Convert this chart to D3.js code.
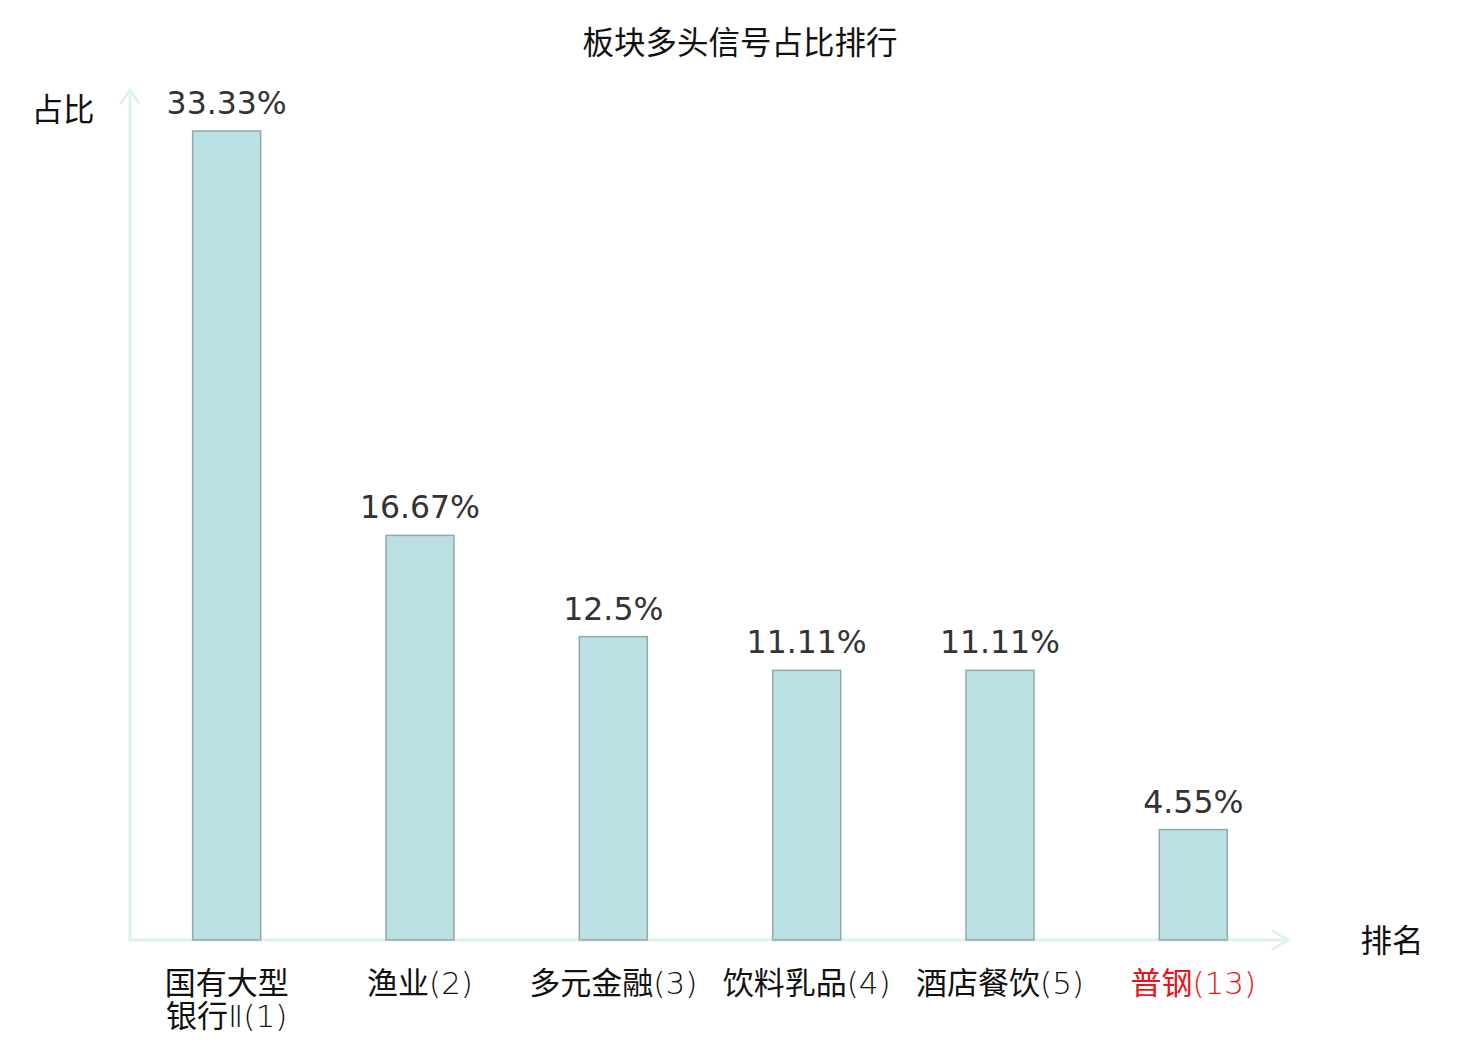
<!DOCTYPE html>
<html>
<head>
<meta charset="utf-8">
<script src="https://cdn.jsdelivr.net/npm/d3@7"></script>
<style>
  body { margin: 0; background: #fff; }
  text { font-family: "DejaVu Sans", "Noto Sans CJK SC", sans-serif; }
  .cjk { font-family: "Noto Sans CJK SC", sans-serif; }
  .thin { font-family: "DejaVu Sans", sans-serif; font-weight: 200; }
</style>
</head>
<body>
<svg id="chart" width="1480" height="1040"></svg>
<script>
// chart data
const CATEGORIES = ['国有大型银行Ⅱ(1)', '渔业(2)', '多元金融(3)', '饮料乳品(4)', '酒店餐饮(5)', '普钢(13)'];
const LABEL_LINES = [['国有大型', '银行Ⅱ(1)'], ['渔业(2)'], ['多元金融(3)'], ['饮料乳品(4)'], ['酒店餐饮(5)'], ['普钢(13)']];
const VALUES = [33.33, 16.67, 12.5, 11.11, 11.11, 4.55];
const HIGHLIGHT = [false, false, false, false, false, true];

const svg = d3.select('#chart');
const AXIS_COLOR = '#dff2ef';
const X0 = 130, X1 = 1290, Y0 = 940, YTOP = 131;
const BAR_W = 68;

const x = d3.scaleBand().domain(CATEGORIES).range([X0, X1]);
const y = d3.scaleLinear().domain([0, d3.max(VALUES)]).range([Y0, YTOP]);

// title
svg.append('text')
    .attr('class', 'cjk')
    .attr('x', 740).attr('y', 54)
    .attr('text-anchor', 'middle')
    .attr('font-size', 31.5)
    .attr('fill', '#111')
    .text('板块多头信号占比排行');

// axes with arrow heads
const axisG = svg.append('g')
    .attr('stroke', AXIS_COLOR).attr('stroke-width', 3).attr('fill', 'none')
    .attr('stroke-linecap', 'round').attr('stroke-linejoin', 'round');
axisG.append('line').attr('x1', X0).attr('y1', Y0).attr('x2', X0).attr('y2', 90);
axisG.append('path').attr('d', `M${X0 - 9},${103} L${X0},${90} L${X0 + 9},${103}`);
axisG.append('line').attr('x1', X0).attr('y1', Y0).attr('x2', 1288).attr('y2', Y0);
axisG.append('path').attr('d', `M1273,${Y0 - 9} L1288,${Y0} L1273,${Y0 + 9}`);

// bars
svg.selectAll('.bar')
    .data(VALUES)
    .enter()
    .append('rect')
    .attr('class', 'bar')
    .attr('x', (d, i) => x(CATEGORIES[i]) + x.bandwidth() / 2 - BAR_W / 2)
    .attr('y', d => y(d))
    .attr('width', BAR_W)
    .attr('height', d => Y0 - y(d))
    .attr('fill', '#bbe0e3')
    .attr('stroke', '#8fa9aa')
    .attr('stroke-width', 1.5);

// value labels
svg.selectAll('.val')
    .data(VALUES)
    .enter()
    .append('text')
    .attr('class', 'val')
    .attr('x', (d, i) => x(CATEGORIES[i]) + x.bandwidth() / 2)
    .attr('y', d => y(d) - 17)
    .attr('text-anchor', 'middle')
    .attr('font-size', 31.5)
    .attr('fill', '#333')
    .text(d => d + '%');

// category labels: one text per category, one tspan per line,
// CJK parts regular, digits/brackets thin
const cats = svg.selectAll('.cat')
    .data(LABEL_LINES)
    .enter()
    .append('text')
    .attr('class', 'cat')
    .attr('text-anchor', 'middle')
    .attr('font-size', 31)
    .attr('fill', (d, i) => HIGHLIGHT[i] ? '#e8141a' : '#111');
const lines = cats.selectAll('tspan.line')
    .data((d, i) => d.map(s => ({ s, i })))
    .enter()
    .append('tspan')
    .attr('class', 'line')
    .attr('x', d => x(CATEGORIES[d.i]) + x.bandwidth() / 2)
    .attr('y', (d, j) => 994 + j * 33);
lines.selectAll('tspan')
    .data(d => d.s.match(/[\u4e00-\u9fff]+|[^\u4e00-\u9fff]+/g))
    .enter()
    .append('tspan')
    .attr('class', s => /[\u4e00-\u9fff]/.test(s) ? 'cjk' : 'thin')
    .text(s => s);

// axis names
svg.append('text')
    .attr('class', 'cjk')
    .attr('x', 63).attr('y', 121)
    .attr('text-anchor', 'middle')
    .attr('font-size', 31.5).attr('fill', '#111')
    .text('占比');
svg.append('text')
    .attr('class', 'cjk')
    .attr('x', 1392).attr('y', 952)
    .attr('text-anchor', 'middle')
    .attr('font-size', 31.5).attr('fill', '#111')
    .text('排名');
</script>
</body>
</html>
